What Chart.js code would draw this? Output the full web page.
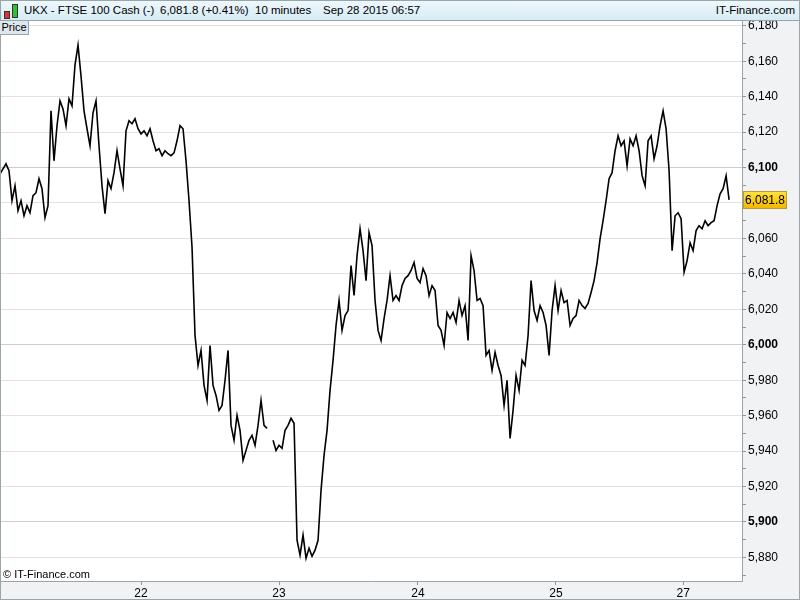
<!DOCTYPE html>
<html>
<head>
<meta charset="utf-8">
<script src="https://cdn.jsdelivr.net/npm/chart.js@4/dist/chart.umd.min.js"></script>
<style>
  body { margin: 0; background: #fff; }
  #wrap { position: relative; width: 800px; height: 600px; overflow: hidden; font-family: "Liberation Sans", Arial, sans-serif; }
  #chart { position: absolute; left: 0; top: 0; }
  #head { position: absolute; left: 0; top: 0; width: 798px; height: 19px; border: 1px solid #9aa4ab;
          background: linear-gradient(#eef8fc, #d6ebf4); font-size: 11.5px; line-height: 19px; color: #000; }
  #head span { position: absolute; top: 0; white-space: nowrap; }
  .candle { position: absolute; width: 4px; border: 1px solid #333; }
  #price { position: absolute; left: 0; top: 21px; width: 28px; height: 13px; background: #dfe7ee; border: 1px solid #9aa4ab; border-left: 0; border-top: 0;
           font-size: 11px; line-height: 13px; text-align: center; color: #000; }
  #copy { position: absolute; left: 3px; top: 568px; font-size: 11px; color: #000; }
</style>
</head>
<body>
<div id="wrap">
  <canvas id="chart" width="800" height="600"></canvas>
  <div id="head">
    <div class="candle" style="left:3px;top:10px;height:6px;background:#e03030"></div>
    <div class="candle" style="left:11px;top:3px;height:12px;background:#30c030"></div>
    <span style="left:23px">UKX - FTSE 100 Cash (-)</span>
    <span style="left:159px">6,081.8 (+0.41%)</span>
    <span style="left:254px">10 minutes</span>
    <span style="left:322px">Sep 28 2015 06:57</span>
    <span style="right:4px">IT-Finance.com</span>
  </div>
  <div id="price">Price</div>
  <div id="copy">© IT-Finance.com</div>
</div>
<script>
// 10 minute closes, Sep 21 - Sep 28 2015 (null = no quotes)
const prices = [
  6096.5, 6099.3, 6102.1, 6098.2, 6081.3, 6089.7, 6075.7, 6081.3, 6072.8, 6078.5,
  6074.5, 6084.1, 6085.8, 6093.7, 6088.1, 6071.7, 6078.5, 6132.0, 6103.8, 6123.6,
  6137.6, 6133.1, 6123.6, 6138.8, 6134.8, 6158.0, 6169.0, 6151.7, 6132.0, 6121.9,
  6112.3, 6130.9, 6137.6, 6112.3, 6089.7, 6074.0, 6092.6, 6088.1, 6097.1, 6109.5,
  6099.3, 6089.7, 6120.7, 6126.4, 6124.7, 6127.5, 6121.9, 6119.0, 6120.7, 6117.9,
  6121.9, 6115.1, 6109.5, 6110.6, 6106.7, 6109.5, 6107.8, 6106.7, 6108.3, 6115.1,
  6123.6, 6121.9, 6103.8, 6081.3, 6055.0, 6005.2, 5988.3, 5996.8, 5977.1, 5968.6,
  5999.6, 5977.1, 5971.4, 5963.0, 5965.8, 5979.9, 5996.8, 5954.5, 5946.1, 5960.2,
  5951.7, 5934.8, 5940.4, 5946.1, 5948.9, 5943.3, 5954.5, 5968.6, 5954.5, 5952.8,
  null,   5946.1, 5940.4, 5943.3, 5941.6, 5951.7, 5954.5, 5958.5, 5955.7, 5889.7,
  5881.3, 5892.6, 5879.6, 5885.2, 5880.7, 5884.1, 5889.7, 5917.9, 5937.6, 5951.7,
  5974.3, 5991.2, 6010.9, 6025.0, 6008.1, 6016.5, 6019.3, 6044.7, 6027.8, 6050.3,
  6065.5, 6053.1, 6036.2, 6063.3, 6055.9, 6025.0, 6008.1, 6002.4, 6014.8, 6025.0,
  6039.0, 6025.0, 6027.8, 6025.0, 6033.4, 6037.4, 6039.0, 6041.9, 6046.4, 6037.4,
  6035.1, 6043.0, 6039.0, 6027.8, 6033.4, 6030.6, 6010.9, 6008.1, 5999.6, 6018.2,
  6014.8, 6018.2, 6012.6, 6025.0, 6016.5, 6022.1, 6002.4, 6050.3, 6041.9, 6025.0,
  6026.1, 6022.1, 5994.0, 5996.8, 5985.5, 5995.7, 5988.3, 5982.7, 5965.8, 5979.9,
  5947.2, 5963.0, 5982.7, 5974.3, 5991.2, 5988.3, 6005.2, 6036.2, 6019.3, 6013.7,
  6022.1, 6018.2, 6010.9, 5994.0, 6019.3, 6033.4, 6019.3, 6030.6, 6023.8, 6025.0,
  6010.9, 6014.8, 6016.5, 6025.0, 6022.1, 6020.5, 6023.3, 6029.5, 6036.2, 6046.4,
  6059.9, 6070.0, 6081.3, 6093.7, 6097.1, 6109.5, 6117.9, 6112.3, 6115.1, 6101.0,
  6116.2, 6112.3, 6117.9, 6109.5, 6095.4, 6089.7, 6115.1, 6117.9, 6105.0, 6112.3,
  6123.6, 6132.0, 6121.9, 6098.2, 6053.1, 6072.8, 6074.5, 6071.2, 6041.0, 6047.5,
  6057.6, 6053.1, 6064.4, 6067.2, 6065.5, 6070.0, 6067.2, 6068.9, 6070.0, 6078.5,
  6085.2, 6088.1, 6095.4, 6081.8
];
const dayLabels = ['22', '23', '24', '25', '27'];
const dayBars = [47, 93, 139.3, 185.3, 227.7];   // bar index where each session starts
const lastPrice = 6081.8;
const yMin = 5866.7, yMax = 6182.7;
const barsShown = 247.3;

const points = prices.map((p, i) => ({ x: i, y: p }));
const fmt = v => Math.round(v).toLocaleString('en-US');
const tickVal = c => (c && c.tick ? Math.round(c.tick.value) : 1);

const frame = {
  id: 'frame',
  beforeDraw(chart) {
    const c = chart.ctx, a = chart.chartArea;
    c.save();
    c.fillStyle = '#f0f2f4';
    c.fillRect(0, 0, chart.width, chart.height);
    c.fillStyle = '#fff';
    c.fillRect(a.left, a.top, a.right - a.left, a.bottom - a.top);
    c.restore();
  },
  afterDraw(chart) {
    const c = chart.ctx;
    const y = Math.round(chart.scales.y.getPixelForValue(lastPrice));
    c.save();
    const g = c.createLinearGradient(0, y - 8, 0, y + 8);
    g.addColorStop(0, '#ffe23a');
    g.addColorStop(1, '#f2b800');
    c.fillStyle = g;
    c.fillRect(743.5, y - 8.5, 43, 17);
    c.strokeStyle = '#b99a3a';
    c.strokeRect(743.5, y - 8.5, 43, 17);
    c.fillStyle = '#000';
    c.font = '12px "Liberation Sans", Arial, sans-serif';
    c.textBaseline = 'middle';
    c.fillText('6,081.8', 745, y + 1);
    c.strokeStyle = '#9aa4ab';
    c.strokeRect(0.5, 0.5, chart.width - 1, chart.height - 1);
    c.restore();
  }
};

new Chart(document.getElementById('chart'), {
  type: 'line',
  data: {
    datasets: [{
      data: points,
      borderColor: '#000',
      borderWidth: 1.6,
      pointRadius: 0,
      tension: 0,
      spanGaps: false
    }]
  },
  options: {
    responsive: false,
    animation: false,
    layout: { padding: { top: 21, left: 0, right: 0, bottom: 0 } },
    plugins: { legend: { display: false }, tooltip: { enabled: false } },
    scales: {
      x: {
        type: 'linear',
        min: 0,
        max: barsShown,
        afterBuildTicks: s => { s.ticks = dayBars.map(v => ({ value: v })); },
        afterFit: s => { s.height = 19; },
        border: { color: '#9aa4ab' },
        grid: { drawOnChartArea: false, tickLength: 4, tickColor: '#8c969c' },
        ticks: {
          autoSkip: false,
          maxRotation: 0,
          padding: 1,
          color: '#000',
          font: { family: '"Liberation Sans", Arial, sans-serif', size: 12 },
          callback: (v, i) => dayLabels[i]
        }
      },
      y: {
        position: 'right',
        min: yMin,
        max: yMax,
        afterFit: s => { s.width = 58; },
        border: { color: '#9aa4ab' },
        grid: {
          tickLength: 4,
          tickColor: '#8c969c',
          color: c => {
            const v = tickVal(c);
            if (v % 100 === 0) return '#cdcdcd';
            if (v % 20 === 0) return '#e2e2e2';
            return 'rgba(0,0,0,0)';
          }
        },
        ticks: {
          stepSize: 10,
          includeBounds: false,
          autoSkip: false,
          padding: 2,
          color: '#000',
          font: c => ({ family: '"Liberation Sans", Arial, sans-serif', size: 12,
                        weight: tickVal(c) % 100 === 0 ? 'bold' : 'normal' }),
          callback: v => (Math.round(v) % 20 === 0 ? fmt(v) : '')
        }
      }
    }
  },
  plugins: [frame]
});
</script>
</body>
</html>
